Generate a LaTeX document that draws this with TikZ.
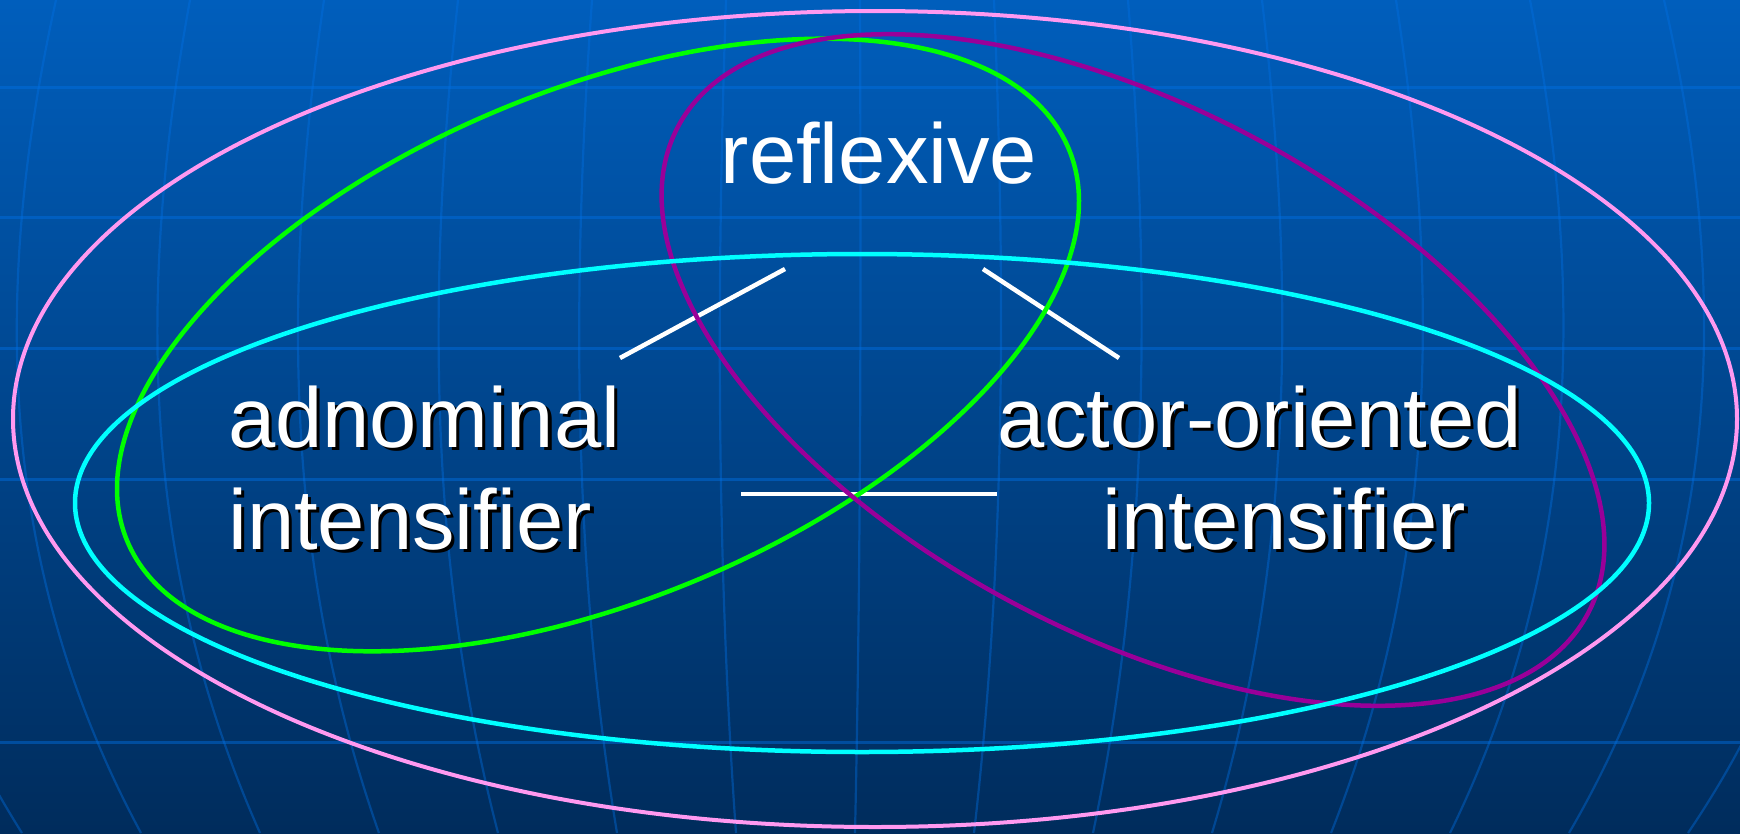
\documentclass[tikz,border=0pt]{standalone}
\usepackage{fontspec}
\setmainfont{Liberation Sans}
\usetikzlibrary{positioning, backgrounds}

\definecolor{bgtop}{RGB}{0,94,188}
\definecolor{bgbot}{RGB}{0,44,92}
\definecolor{gridblue}{RGB}{0,112,228}
\definecolor{pinkring}{RGB}{255,153,240}
\definecolor{cyanring}{RGB}{0,255,255}
\definecolor{greenring}{RGB}{0,255,0}
\definecolor{purplering}{RGB}{153,0,153}

% white text with a black drop shadow
\newcommand{\shadowed}[1]{\makebox[0pt][l]{\hspace{3.5pt}\raisebox{-3.5pt}{\color{black}#1}}#1}

\begin{document}
\begin{tikzpicture}[
    x=1pt, y=-1pt,
    gridline/.style={draw=gridblue, opacity=0.45, line width=3pt},
    ring/.style={line width=4.5pt},
    branch/.style={draw=white, line width=4.5pt},
    wordlabel/.style={text=white, inner sep=0pt, font=\fontsize{85}{102}\selectfont},
]
\useasboundingbox (0,0) rectangle (1740,833);

\begin{scope}[on background layer]
    \shade[top color=bgtop, bottom color=bgbot] (0,0) rectangle (1740,833);
    \foreach \y in {87,217,348,479,742}{
        \draw[gridline] (0,\y) -- (1740,\y);
    }
    \foreach \k in {-7,...,7}{
        \draw[gridline, opacity=0.4, line width=2.2pt] ({860+134*\k},0) .. controls ({861+144.5*\k},280) and ({861+144.5*\k},560) .. ({855+119*\k},833);
    }
\end{scope}

% outer set
\draw[ring, pinkring, line width=4pt] (875,419) ellipse [x radius=862pt, y radius=408pt];

% branches
\coordinate (lfttop) at (785,269);
\coordinate (lftbot) at (620,358);
\coordinate (rgttop) at (983,269);
\coordinate (rgtbot) at (1119,358);
\coordinate (midlft) at (741,494);
\coordinate (midrgt) at (997,494);
\foreach \a/\b in {lfttop/lftbot, rgttop/rgtbot, midlft/midrgt}{
    \draw[branch] (\a) -- (\b);
}

\draw[ring, greenring, rotate around={22.6:(598,345)}] (598,345) ellipse [x radius=510pt, y radius=255pt];
\draw[ring, purplering, rotate around={-28.2:(1133,370)}] (1133,370) ellipse [x radius=516pt, y radius=262pt];
\draw[ring, cyanring] (862,503) ellipse [x radius=787pt, y radius=249pt];

\node[wordlabel, anchor=base] (refl) at (879,183) {reflexive};
\node[wordlabel, anchor=base west] (adnom) at (228,447) {\shadowed{adnominal}};
\node[wordlabel, anchor=base west] (adnomint) at ([yshift=-102pt]adnom.base west) {\shadowed{intensifier}};
\node[wordlabel, anchor=base west] (actor) at (997,447) {\shadowed{actor-oriented}};
\node[wordlabel, anchor=base west] (actorint) at (1102,549) {\shadowed{intensifier}};

\end{tikzpicture}
\end{document}
